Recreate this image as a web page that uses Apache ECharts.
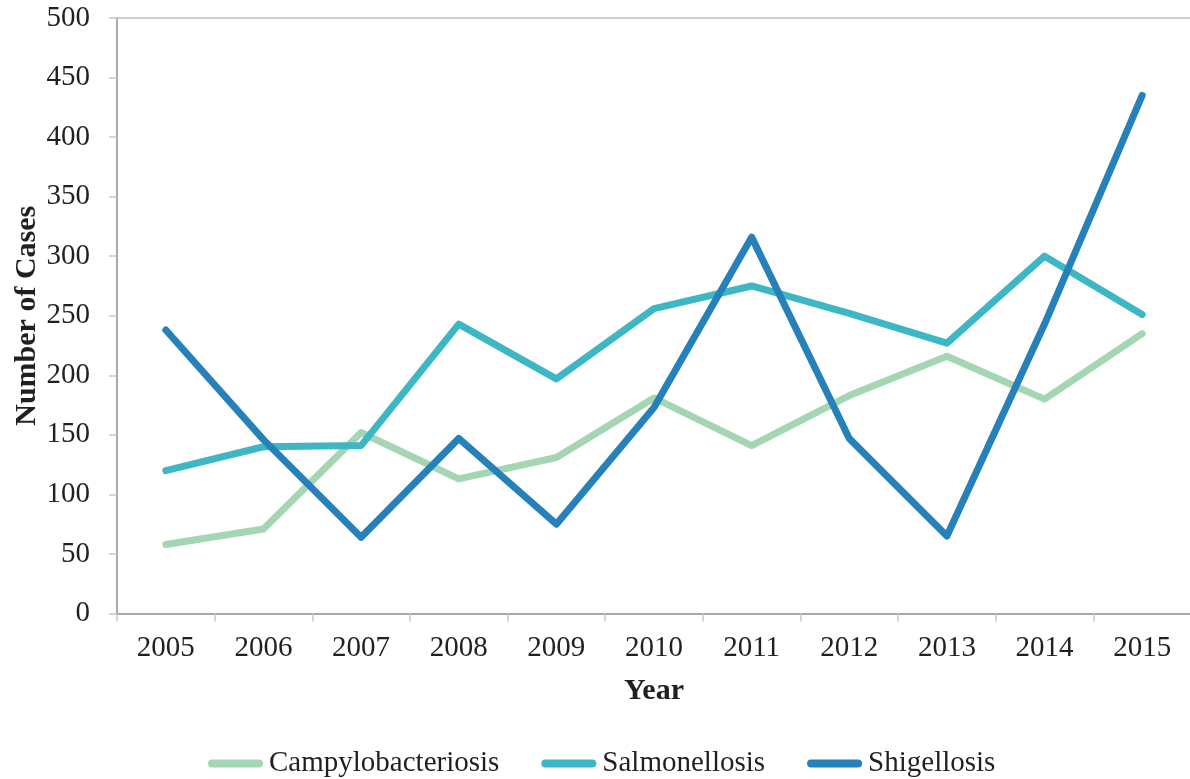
<!DOCTYPE html>
<html>
<head>
<meta charset="utf-8">
<script src="https://cdn.jsdelivr.net/npm/echarts@6/dist/echarts.min.js"></script>
<style>
  html, body { margin: 0; padding: 0; background: #ffffff; }
  #chart { width: 1190px; height: 779px; }
</style>
</head>
<body>
<div id="chart"></div>
<script>
// Annual reported cases by disease, 2005–2015
const years = ['2005', '2006', '2007', '2008', '2009', '2010', '2011', '2012', '2013', '2014', '2015'];
const campylobacteriosis = [58, 71, 152, 113, 131, 181, 141, 183, 216, 180, 235];
const salmonellosis = [120, 140, 141, 243, 197, 256, 275, 252, 227, 300, 251];
const shigellosis = [238, 146, 64, 147, 75, 173, 316, 147, 65, 243, 435];

const seriesNames = ['Campylobacteriosis', 'Salmonellosis', 'Shigellosis'];
const seriesColors = ['#a5d6b4', '#3eb7c4', '#2680ba'];
const seriesData = [campylobacteriosis, salmonellosis, shigellosis];

const FONT = '"Liberation Serif", "Times New Roman", serif';
const TEXT = '#231f20';
const AXIS = '#8c8c8c';
const TICK = '#c8c8c8';

const legendIcon = 'path://M4,0 H51 A4,4 0 0 1 51,8 H4 A4,4 0 0 1 4,0 Z';

const chart = echarts.init(document.getElementById('chart'), null, { renderer: 'canvas' });

chart.setOption({
  animation: false,
  backgroundColor: '#ffffff',
  textStyle: { fontFamily: FONT, color: TEXT },
  grid: { left: 117, top: 18, width: 1074, height: 595.5, containLabel: false, outerBoundsMode: 'none' },
  legend: {
    bottom: -4,
    left: 203,
    itemWidth: 55,
    itemHeight: 8,
    itemGap: 42,
    icon: legendIcon,
    textStyle: { fontFamily: FONT, fontSize: 29, color: TEXT, padding: [0, 0, 0, 1] },
    data: seriesNames.map((n, i) => ({ name: n, itemStyle: { color: seriesColors[i] } }))
  },
  xAxis: [
    {
      type: 'category',
      data: years,
      boundaryGap: true,
      name: 'Year',
      nameLocation: 'middle',
      nameGap: 63,
      nameMoveOverlap: false,
      nameTextStyle: { fontFamily: FONT, fontSize: 30, fontWeight: 'bold', color: TEXT },
      axisLine: { show: true, lineStyle: { color: AXIS, width: 1.5 } },
      axisTick: { show: true, length: 8, alignWithLabel: false, lineStyle: { color: TICK, width: 1.5 } },
      axisLabel: { fontFamily: FONT, fontSize: 29, color: TEXT, margin: 20 },
      splitLine: { show: false }
    },
    {
      type: 'category',
      data: years,
      position: 'top',
      axisLine: { show: true, lineStyle: { color: '#bdbdbd', width: 1.5 } },
      axisTick: { show: false },
      axisLabel: { show: false },
      splitLine: { show: false }
    }
  ],
  yAxis: {
    type: 'value',
    min: 0,
    max: 500,
    interval: 50,
    name: 'Number of Cases',
    nameLocation: 'middle',
    nameGap: 75,
    nameMoveOverlap: false,
    nameTextStyle: { fontFamily: FONT, fontSize: 30, fontWeight: 'bold', color: TEXT },
    axisLine: { show: true, lineStyle: { color: AXIS, width: 1.5 } },
    axisTick: { show: true, inside: false, length: 8, lineStyle: { color: TICK, width: 1.5 } },
    axisLabel: { fontFamily: FONT, fontSize: 29, color: TEXT, margin: 27 },
    splitLine: { show: false }
  },
  series: seriesNames.map((name, i) => ({
    name: name,
    type: 'line',
    xAxisIndex: 0,
    data: seriesData[i],
    showSymbol: false,
    symbol: 'none',
    z: 2 + i,
    lineStyle: { color: seriesColors[i], width: 7, cap: 'round', join: 'round' },
    itemStyle: { color: seriesColors[i] }
  }))
});
</script>
</body>
</html>
